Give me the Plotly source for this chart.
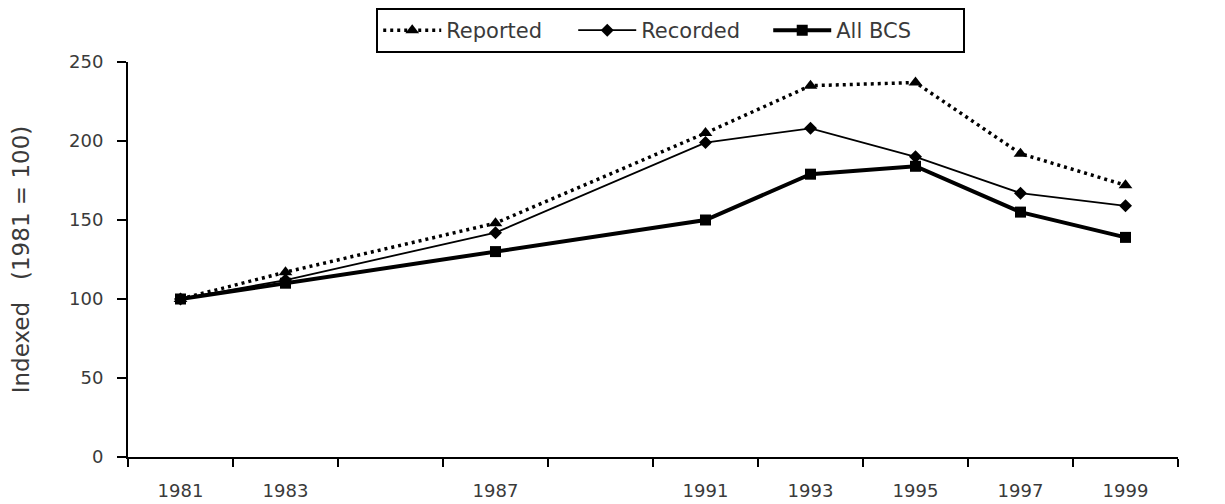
import plotly.graph_objects as go

years = [1981, 1983, 1987, 1991, 1993, 1995, 1997, 1999]
year_labels = ["1981", "1983", "1987", "1991", "1993", "1995", "1997", "1999"]
reported = [100, 117, 148, 205, 235, 237, 192, 172]
recorded = [100, 112, 142, 199, 208, 190, 167, 159]
all_bcs = [100, 110, 130, 150, 179, 184, 155, 139]
boundaries = list(range(1980, 2001, 2))

FONT = "DejaVu Sans, Liberation Sans, Arial, sans-serif"
TXT = "#3a3a3a"

fig = go.Figure()
fig.add_trace(go.Scatter(
    x=years, y=reported, name="Reported", mode="lines+markers",
    line=dict(color="black", width=3.5, dash="3px,4px"),
    marker=dict(symbol="triangle-up", size=12, color="black"),
))
fig.add_trace(go.Scatter(
    x=years, y=recorded, name="Recorded", mode="lines+markers",
    line=dict(color="black", width=1.8),
    marker=dict(symbol="diamond", size=10, color="black"),
))
fig.add_trace(go.Scatter(
    x=years, y=all_bcs, name="All BCS", mode="lines+markers",
    line=dict(color="black", width=4),
    marker=dict(symbol="square", size=11, color="black"),
))
# invisible trace to activate the label axis
fig.add_trace(go.Scatter(x=years, y=all_bcs, xaxis="x2", mode="lines",
                         line=dict(width=0), showlegend=False, hoverinfo="skip"))

fig.update_layout(
    width=1225, height=504,
    paper_bgcolor="white", plot_bgcolor="white",
    margin=dict(l=120, r=55, t=54, b=55, autoexpand=False),
    font=dict(family=FONT, color=TXT, size=18),
    showlegend=True,
    legend=dict(
        orientation="h", xref="container", x=0.541, xanchor="center",
        yref="container", y=1.0, yanchor="top",
        bordercolor="black", borderwidth=2, bgcolor="white",
        font=dict(size=21, color=TXT, family=FONT),
        itemwidth=58, tracegroupgap=0,
        entrywidthmode="pixels", entrywidth=122,
    ),
    xaxis=dict(
        range=[1980, 2000], tickmode="array", tickvals=boundaries,
        showticklabels=False, ticks="outside", ticklen=8, tickwidth=2,
        tickcolor="black", showline=True, linecolor="black", linewidth=2,
        showgrid=False, zeroline=False, automargin=False,
    ),
    xaxis2=dict(
        range=[1980, 2000], overlaying="x", side="bottom", anchor="y",
        tickmode="array", tickvals=years, ticktext=year_labels,
        ticks="", showline=False, showgrid=False, zeroline=False,
        tickfont=dict(size=18, color=TXT, family=FONT),
        ticklabelstandoff=21, automargin=False,
    ),
    yaxis=dict(
        range=[0, 250], tickmode="linear", tick0=0, dtick=50,
        ticks="outside", ticklen=9, tickwidth=2, tickcolor="black",
        showline=True, linecolor="black", linewidth=2,
        showgrid=False, zeroline=False, automargin=False,
        tickfont=dict(size=18, color=TXT, family=FONT),
        ticklabelstandoff=10,
        title=dict(text="Indexed   (1981 = 100)", font=dict(size=23, color=TXT, family=FONT),
                   standoff=35),
    ),
)

fig.write_html("out.html")
